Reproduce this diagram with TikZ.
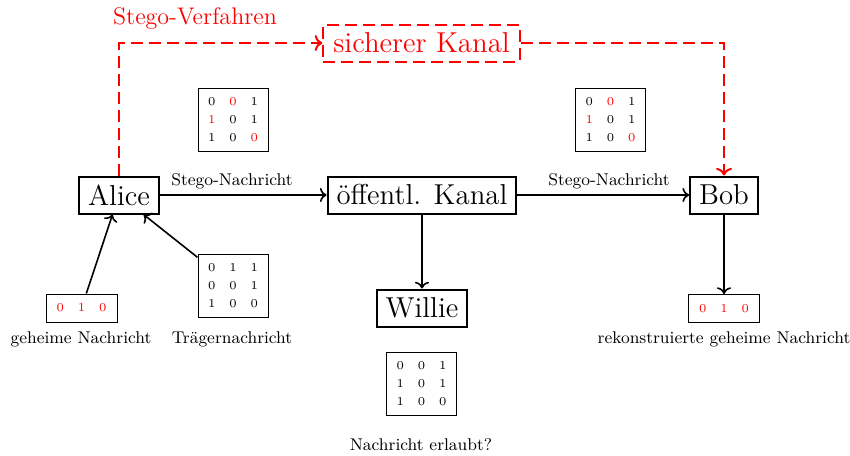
\documentclass[tikz,border=0pt]{standalone}
\usetikzlibrary{arrows.meta}
\newcommand{\rd}[1]{\textcolor{red}{#1}}
\newcommand{\matfont}{\fontsize{6}{9}\selectfont}
\tikzset{
  bigbox/.style={draw, line width=1pt, font=\fontsize{14.4}{16}\selectfont, inner xsep=4.5pt, inner ysep=2pt, minimum height=18.5pt},
  matbox/.style={draw, line width=0.5pt, font=\matfont, inner sep=0pt, minimum width=35pt, minimum height=31.5pt},
  vecbox/.style={draw, line width=0.5pt, font=\matfont, inner sep=0pt, minimum width=35.5pt, minimum height=14pt},
  lbl/.style={font=\fontsize{8.5}{10}\selectfont, inner sep=0pt},
  conn/.style={->, line width=0.8pt},
  redline/.style={draw=red, color=red, line width=1pt, dash pattern=on 6pt off 3pt},
}
\begin{document}
\begin{tikzpicture}[x=0.5pt,y=-0.5pt]
\useasboundingbox (0,0) rectangle (850,455);
% main nodes
\node[bigbox] (alice) at (119,195) {Alice};
\node[bigbox] (kanal) at (422,195) {öffentl. Kanal};
\node[bigbox] (bob) at (724,195) {Bob};
\node[bigbox] (willie) at (422,308) {Willie};
\node[bigbox, redline, inner xsep=5pt] (sicher) at (421.5,43) {sicherer Kanal};
\node[red, font=\fontsize{12}{14}\selectfont, inner sep=0pt] (verf) at (195,19) {Stego-Verfahren};
% matrices
\node[matbox] (mtl) at (233,119.5) {\begin{tabular}{@{}c@{\hspace{7pt}}c@{\hspace{7pt}}c@{}}0&\rd{0}&1\\ \rd{1}&0&1\\ 1&0&\rd{0}\end{tabular}};
\node[matbox] (mtr) at (610.5,119.5) {\begin{tabular}{@{}c@{\hspace{7pt}}c@{\hspace{7pt}}c@{}}0&\rd{0}&1\\ \rd{1}&0&1\\ 1&0&\rd{0}\end{tabular}};
\node[matbox] (traeger) at (233,285.5) {\begin{tabular}{@{}c@{\hspace{7pt}}c@{\hspace{7pt}}c@{}}0&1&1\\ 0&0&1\\ 1&0&0\end{tabular}};
\node[matbox] (mw) at (421.5,383.5) {\begin{tabular}{@{}c@{\hspace{7pt}}c@{\hspace{7pt}}c@{}}0&0&1\\ 1&0&1\\ 1&0&0\end{tabular}};
\node[vecbox] (gh) at (81.5,308) {\rd{0}\hspace{7pt}\rd{1}\hspace{7pt}\rd{0}};
\node[vecbox] (rek) at (724,308.5) {\rd{0}\hspace{7pt}\rd{1}\hspace{7pt}\rd{0}};
% labels
\node[lbl] (l1) at (232,181) {Stego-Nachricht};
\node[lbl] (l2) at (609,181) {Stego-Nachricht};
\node[lbl] (l3) at (81,339) {geheime Nachricht};
\node[lbl] (l4) at (232,339) {Trägernachricht};
\node[lbl] (l5) at (724,339) {rekonstruierte geheime Nachricht};
\node[lbl] (l6) at (421,445) {Nachricht erlaubt?};
% connectors
\draw[conn] (alice) -- (kanal);
\draw[conn] (kanal) -- (bob);
\draw[conn] (kanal.south) -- (willie.north);
\draw[conn] (bob) -- (rek);
\draw[conn] (gh) -- (alice);
\draw[conn] (traeger) -- (alice);
\draw[redline, ->] (alice.north) |- (sicher.west);
\draw[redline, ->] (sicher.east) -| (bob.north);
\end{tikzpicture}
\end{document}
